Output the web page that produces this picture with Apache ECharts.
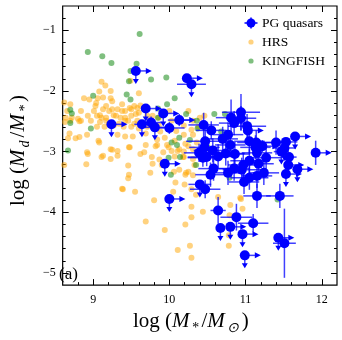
<!DOCTYPE html>
<html>
<head>
<meta charset="utf-8">
<script src="https://cdn.jsdelivr.net/npm/echarts@6/dist/echarts.min.js"></script>
<style>
  html, body { margin: 0; padding: 0; background: #fff; }
  #chart { width: 342px; height: 340px; }
</style>
</head>
<body>
<div id="chart"></div>
<script>
// PG quasars: [log M*, log Md/M*, xErr, yErr, limit]
// limit: 1 = upper limit on y (down arrow), 2 = lower limit on x (right arrow), 3 = both
var pgQuasars = [
  [9.56, -1.67, 0, 0, 3], [10.23, -1.79, 0, 0, 2], [10.29, -1.89, 0.19, 0, 1],
  [9.24, -2.55, 0, 0, 3], [9.69, -2.29, 0, 0, 3], [9.64, -2.55, 0.1, 0, 1],
  [9.76, -2.52, 0.15, 0.1, 0], [9.81, -2.60, 0.2, 0, 1], [9.92, -2.37, 0, 0, 3],
  [10.00, -2.61, 0.2, 0.1, 0], [10.13, -2.48, 0.15, 0.1, 2], [9.94, -3.20, 0, 0, 3],
  [10.00, -3.78, 0, 0, 3], [10.45, -2.56, 0.2, 0.2, 0], [10.55, -2.65, 0.2, 0.15, 0],
  [10.47, -2.83, 0.25, 0.2, 0], [10.81, -2.44, 0.2, 0.3, 0], [10.94, -2.35, 0.25, 0.3, 0],
  [10.85, -2.53, 0.2, 0.2, 0], [11.02, -2.58, 0.25, 0.2, 0], [11.03, -2.65, 0, 0.15, 2],
  [10.70, -2.79, 0.2, 0.2, 0], [10.57, -2.98, 0.25, 0.2, 0], [10.46, -2.93, 0.2, 0.15, 0],
  [11.65, -2.75, 0, 0, 3], [11.40, -2.85, 0.2, 0.2, 0], [11.51, -2.94, 0.15, 0, 1],
  [11.92, -3.02, 0, 0.2, 2], [11.14, -2.85, 0.25, 0.2, 0], [11.05, -2.83, 0.2, 0.2, 0],
  [11.57, -3.09, 0.1, 0, 1], [10.39, -3.02, 0.2, 0.15, 0], [10.49, -3.09, 0.25, 0.15, 0],
  [10.64, -3.08, 0.2, 0.2, 0], [10.74, -3.03, 0.25, 0.2, 0], [10.86, -3.04, 0.2, 0.2, 0],
  [11.13, -2.93, 0.2, 0.2, 0], [10.94, -2.45, 0.2, 0.2, 0], [11.53, -2.84, 0.15, 0, 1],
  [11.22, -2.91, 0, 0.1, 2], [11.47, -3.00, 0.1, 0, 1], [11.15, -3.02, 0.2, 0.2, 0],
  [11.27, -3.10, 0.2, 0.2, 0], [11.05, -3.15, 0.25, 0.2, 0], [11.17, -3.20, 0.2, 0.15, 0],
  [11.56, -3.22, 0, 0.1, 2], [11.68, -3.29, 0, 0, 3], [10.97, -3.22, 0.2, 0.2, 0],
  [10.95, -3.30, 0.25, 0.2, 0], [11.24, -3.35, 0.2, 0.2, 0], [11.53, -3.37, 0, 0, 3],
  [11.15, -3.40, 0.2, 0.2, 0], [11.05, -3.43, 0.25, 0.2, 0], [10.98, -3.50, 0.2, 0.2, 0],
  [10.44, -3.10, 0.2, 0.15, 0], [10.40, -3.54, 0.15, 0, 1], [10.47, -3.62, 0.2, 0.15, 0],
  [10.54, -3.38, 0.2, 0.2, 0], [10.58, -3.28, 0.2, 0.2, 0], [10.77, -3.35, 0.2, 0.2, 0],
  [10.85, -3.28, 0.2, 0.2, 0], [10.64, -3.97, 0.1, 0.22, 0], [10.88, -4.08, 0.21, 0.22, 0],
  [11.10, -4.18, 0.2, 0.15, 0], [10.67, -4.26, 0, 0, 1], [10.80, -4.24, 0, 0, 3],
  [10.96, -4.36, 0, 0, 3], [11.43, -4.42, 0, 0, 3], [11.51, -4.51, 0.15, 0.57, 0],
  [10.99, -4.71, 0, 0, 3], [11.15, -3.73, 0.18, 0.2, 0], [11.45, -3.73, 0.18, 0.2, 0],
  [10.77, -2.72, 0.2, 0.2, 0], [10.80, -2.89, 0.2, 0.2, 0]
];

var hrs = [
  [9.11, -1.85], [9.23, -2.00], [9.60, -2.04], [8.88, -2.12], [9.23, -2.12], [9.13, -2.11], [9.06, -2.12],
  [8.95, -2.14], [9.25, -2.17], [8.70, -2.22], [8.62, -2.19], [9.03, -2.25], [9.17, -2.25], [9.38, -2.22],
  [9.54, -2.25], [9.62, -2.24], [9.48, -2.28], [8.84, -2.33], [9.01, -2.33], [9.21, -2.33], [9.32, -2.30],
  [9.42, -2.33], [9.60, -2.36], [8.93, -2.41], [9.09, -2.40], [9.27, -2.40], [9.36, -2.44], [9.50, -2.41],
  [9.71, -2.41], [8.80, -2.46], [8.97, -2.49], [9.17, -2.49], [9.42, -2.49], [9.58, -2.49], [8.64, -2.44],
  [8.66, -2.33], [9.13, -2.30], [9.25, -2.30], [9.38, -2.33], [9.50, -2.30], [9.58, -2.28], [8.72, -2.44],
  [8.84, -2.49], [9.05, -2.41], [9.17, -2.44], [9.30, -2.41], [9.42, -2.44], [9.56, -2.38], [8.70, -2.49],
  [9.09, -2.51], [9.21, -2.54], [9.34, -2.54], [9.46, -2.49], [9.54, -2.54], [9.05, -2.59], [9.15, -2.59],
  [9.27, -2.57], [9.40, -2.59], [9.50, -2.59], [9.60, -2.62], [9.71, -2.59], [8.77, -2.78], [8.82, -2.76],
  [9.07, -2.82], [9.32, -2.72], [9.42, -2.75], [9.52, -2.75], [9.69, -2.70], [9.69, -2.89], [9.48, -2.93],
  [9.32, -2.99], [9.23, -2.96], [9.67, -3.01], [9.62, -3.04], [8.93, -3.04], [9.13, -3.07], [9.11, -3.09],
  [9.23, -3.12], [9.32, -3.07], [9.77, -3.09], [8.91, -3.21], [9.46, -3.23], [9.78, -3.20], [9.46, -3.44],
  [9.38, -3.61], [9.55, -3.66], [8.62, -3.22],
  [10.00, -2.33], [9.78, -2.41], [9.86, -2.44], [10.40, -2.44], [10.46, -2.41], [10.31, -2.49], [10.03, -2.49],
  [9.86, -2.57], [10.19, -2.57], [10.38, -2.59], [10.29, -2.64], [9.88, -2.67], [10.09, -2.66], [10.19, -2.72],
  [9.94, -2.77], [10.31, -2.72], [9.84, -2.80], [10.07, -2.82], [10.21, -2.87], [10.36, -2.85], [9.97, -2.89],
  [9.84, -2.89], [10.13, -2.96], [10.31, -2.96], [9.92, -3.01], [10.03, -2.99], [10.19, -3.00],
  [9.82, -2.91], [9.99, -2.93], [10.11, -2.99], [10.25, -2.91], [9.87, -3.13], [10.07, -3.08], [10.19, -3.09],
  [10.31, -3.12], [10.13, -3.30], [10.06, -3.33], [10.21, -3.38], [10.25, -3.33], [9.90, -3.22], [10.08, -3.51],
  [10.29, -3.62], [10.05, -3.66], [9.80, -3.80], [10.44, -3.99], [10.29, -3.91], [10.21, -4.20], [10.29, -4.08],
  [9.94, -4.29], [10.79, -4.05], [10.94, -3.78], [10.80, -3.88],
  [9.47, -3.38], [9.39, -3.62], [9.69, -4.15], [9.75, -3.35], [10.11, -4.62],
  [10.64, -3.75], [10.93, -3.76], [10.96, -3.94], [10.78, -4.38], [10.78, -4.55],
  [10.22, -3.35], [10.31, -3.39], [10.20, -3.54], [10.35, -3.71], [10.27, -4.55], [10.29, -4.75], [10.78, -4.23],
  [10.55, -3.41], [10.33, -3.22], [10.57, -3.25],
  [9.16, -1.91], [9.08, -2.01], [9.04, -2.20], [9.49, -1.83], [9.11, -2.44], [8.63, -2.51], [8.82, -2.50],
  [8.67, -2.78], [9.08, -2.85], [9.47, -2.93], [9.25, -2.97], [8.92, -3.01], [8.69, -2.70], [8.92, -2.72],
  [10.25, -2.33], [10.18, -3.09]
];

var kingfish = [
  [9.61, -1.06], [8.93, -1.36], [9.12, -1.43], [9.24, -1.54], [9.57, -1.55], [9.49, -1.67], [9.47, -1.84],
  [9.76, -1.81], [9.96, -1.78], [9.00, -2.08], [9.44, -2.06], [9.49, -2.14], [8.70, -2.31], [8.72, -2.37],
  [8.70, -2.53], [8.97, -2.62], [8.67, -2.98], [10.07, -2.12], [9.97, -2.22], [9.85, -2.44], [10.22, -2.38],
  [10.36, -2.49], [10.13, -2.77], [10.03, -2.85], [10.27, -2.81], [10.50, -2.92], [10.73, -2.38], [10.68, -2.67],
  [9.99, -3.10], [10.14, -3.09], [10.02, -3.38], [10.10, -2.89], [10.56, -2.99], [10.78, -2.94], [10.59, -2.38],
  [10.37, -2.62], [10.35, -3.22], [10.79, -3.43], [11.42, -3.79], [9.85, -2.29]
];

var xTicks = [9, 10, 11, 12];
var xMinorTicks = [8.8, 9.2, 9.4, 9.6, 9.8, 10.2, 10.4, 10.6, 10.8, 11.2, 11.4, 11.6, 11.8];
var yTicks = [-5, -4, -3, -2, -1];
var yMinorTicks = [-4.8, -4.6, -4.4, -4.2, -3.8, -3.6, -3.4, -3.2, -2.8, -2.6, -2.4, -2.2,
  -1.8, -1.6, -1.4, -1.2, -0.8];

var SERIF = 'Liberation Serif';
var BLUE = '#0000ff';
var ORANGE = 'rgba(255,165,0,0.5)';
var GREEN = 'rgba(0,128,0,0.5)';

var chart = echarts.init(document.getElementById('chart'));

function makeAxis(kind, pos, ticks, len, withLabel, extra) {
  var ax = {
    type: 'value',
    position: pos,
    min: kind === 'x' ? 8.6 : -5.2,
    max: kind === 'x' ? 12.2 : -0.6,
    axisLine: { show: false },
    splitLine: { show: false },
    axisTick: {
      show: true, inside: true, length: len, customValues: ticks,
      lineStyle: { color: '#000', width: 1 }
    },
    axisLabel: { show: false }
  };
  if (withLabel) {
    ax.axisLabel = {
      show: true, customValues: ticks, color: '#000',
      fontFamily: SERIF, fontSize: 12, margin: kind === 'x' ? 9 : 7,
      formatter: function (v) { return String(v).replace('-', '\u2212'); }
    };
  }
  return Object.assign(ax, extra || {});
}

var titleRich = {
  t: { fontFamily: SERIF, fontSize: 21, color: '#000', verticalAlign: 'top' },
  m: { fontFamily: SERIF, fontSize: 21, fontStyle: 'italic', color: '#000', verticalAlign: 'top' },
  s: { fontFamily: SERIF, fontSize: 14, fontStyle: 'italic', color: '#000', verticalAlign: 'top', padding: [10, 3, 0, 2] }
};

function renderPG(params, api) {
  var x = api.value(0), y = api.value(1), xe = api.value(2), ye = api.value(3), lim = api.value(4);
  var c = api.coord([x, y]);
  var st = { stroke: 'rgba(0,0,255,0.75)', lineWidth: 1.5 };
  var kids = [];
  if (xe > 0) {
    var a = api.coord([x - xe, y]), b = api.coord([x + xe, y]);
    kids.push({ type: 'line', shape: { x1: a[0], y1: a[1], x2: b[0], y2: b[1] }, style: st });
  }
  if (ye > 0) {
    var p = api.coord([x, y - ye]), q = api.coord([x, y + ye]);
    kids.push({ type: 'line', shape: { x1: p[0], y1: p[1], x2: q[0], y2: q[1] }, style: st });
  }
  if (lim & 2) {
    kids.push({ type: 'line', shape: { x1: c[0], y1: c[1], x2: c[0] + 11, y2: c[1] }, style: st });
    kids.push({ type: 'polygon', shape: { points: [[c[0] + 10, c[1] - 3], [c[0] + 16, c[1]], [c[0] + 10, c[1] + 3]] },
      style: { fill: BLUE } });
  }
  if (lim & 1) {
    kids.push({ type: 'line', shape: { x1: c[0], y1: c[1], x2: c[0], y2: c[1] + 9 }, style: st });
    kids.push({ type: 'polygon', shape: { points: [[c[0] - 3, c[1] + 8], [c[0], c[1] + 13], [c[0] + 3, c[1] + 8]] },
      style: { fill: BLUE } });
  }
  return { type: 'group', children: kids };
}

var option = {
  animation: false,
  backgroundColor: '#fff',
  grid: {
    left: 44, right: 5, top: 6, bottom: 43,
    show: true, borderColor: '#000', borderWidth: 1.2, backgroundColor: 'transparent'
  },
  xAxis: [
    makeAxis('x', 'bottom', xTicks, 6, true, {
      name: '{t|log (}{m|M}{s|*}{t|/}{m|M}{s|\u2299}{t|)}',
      nameLocation: 'middle', nameGap: 17,
      nameTextStyle: { rich: titleRich, padding: [0, 18, 0, 0] }
    }),
    makeAxis('x', 'bottom', xMinorTicks, 3, false),
    makeAxis('x', 'top', xTicks, 6, false),
    makeAxis('x', 'top', xMinorTicks, 3, false)
  ],
  yAxis: [
    makeAxis('y', 'left', yTicks, 6, true, {
      name: '{t|log (}{m|M}{s|d}{t|/}{m|M}{s|*}{t|)}',
      nameLocation: 'middle', nameGap: 20, nameRotate: 90,
      nameTextStyle: { rich: titleRich, padding: [0, 10, 0, 0] }
    }),
    makeAxis('y', 'left', yMinorTicks, 3, false),
    makeAxis('y', 'right', yTicks, 6, false),
    makeAxis('y', 'right', yMinorTicks, 3, false)
  ],
  series: [
    {
      name: 'HRS', type: 'scatter', data: hrs, symbolSize: 6,
      itemStyle: { color: ORANGE, opacity: 1 }, z: 2
    },
    {
      name: 'KINGFISH', type: 'scatter', data: kingfish, symbolSize: 6,
      itemStyle: { color: GREEN, opacity: 1 }, z: 3
    },
    {
      name: 'PG errors', type: 'custom', data: pgQuasars, renderItem: renderPG,
      encode: { x: 0, y: 1 }, z: 4, silent: true
    },
    {
      name: 'PG quasars', type: 'scatter', data: pgQuasars.map(function (d) { return [d[0], d[1]]; }),
      symbolSize: 10, itemStyle: { color: BLUE, opacity: 1 }, z: 5
    }
  ],
  graphic: [
    { type: 'text', left: 59, top: 266, style: { text: '(a)', fontFamily: SERIF, fontSize: 17, fill: '#000' } },
    // legend
    { type: 'line', shape: { x1: 244.5, y1: 23, x2: 257.5, y2: 23 }, style: { stroke: BLUE, lineWidth: 1.5 } },
    { type: 'line', shape: { x1: 251, y1: 17.5, x2: 251, y2: 28.5 }, style: { stroke: BLUE, lineWidth: 1.5 } },
    { type: 'circle', shape: { cx: 251, cy: 23, r: 4.5 }, style: { fill: BLUE } },
    { type: 'text', x: 262, y: 23, style: { text: 'PG quasars', fontFamily: SERIF, fontSize: 13.5, fill: '#000', verticalAlign: 'middle' } },
    { type: 'circle', shape: { cx: 251, cy: 42, r: 2.6 }, style: { fill: ORANGE } },
    { type: 'text', x: 262, y: 42, style: { text: 'HRS', fontFamily: SERIF, fontSize: 13.5, fill: '#000', verticalAlign: 'middle' } },
    { type: 'circle', shape: { cx: 251, cy: 61, r: 2.6 }, style: { fill: GREEN } },
    { type: 'text', x: 262, y: 61, style: { text: 'KINGFISH', fontFamily: SERIF, fontSize: 13.5, fill: '#000', verticalAlign: 'middle' } }
  ]
};

chart.setOption(option);
</script>
</body>
</html>
